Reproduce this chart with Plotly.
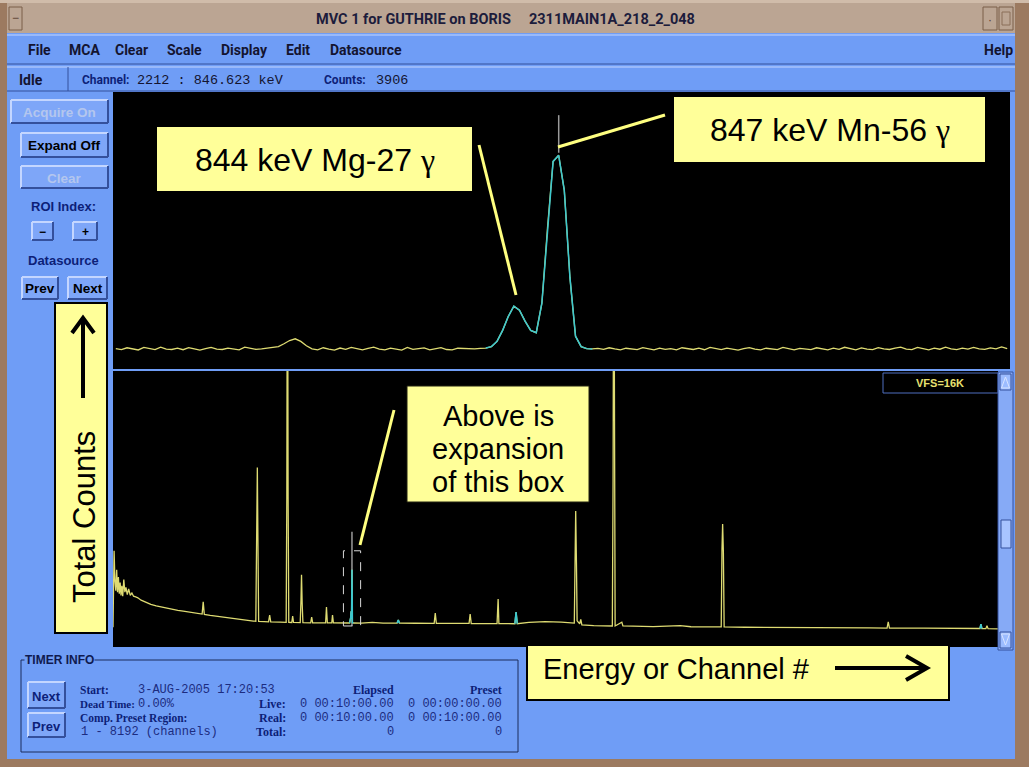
import plotly.graph_objects as go

W, H = 1029, 767

# ---------------- data ----------------
# upper panel: expansion around the 847 keV line, one value per channel
upper_first_channel = 2133
upper_counts = [
    565, 548, 580, 556, 542, 585, 562, 548, 590, 556,
    550, 572, 546, 582, 560, 540, 566, 588, 556, 550,
    575, 562, 545, 590, 566, 552, 560, 572, 580, 600,
    650, 705, 735, 690, 615, 560, 545, 580, 555, 540,
    575, 552, 586, 560, 545, 570, 592, 556, 545, 575,
    560, 540, 585, 552, 566, 578, 545, 560, 582, 550,
    545, 572, 566, 555, 562, 570,
    575, 600, 690, 880, 1120, 1300, 1230, 1040, 880, 840,
    1350, 2650, 3800, 3906, 3300, 1800, 780, 600, 565, 560,
    570, 552, 580, 560, 545, 572, 556, 548, 582, 560,
    545, 575, 552, 566, 545, 580, 560, 550, 572, 546,
    585, 560, 548, 575, 556, 540, 566, 582, 555, 545,
    572, 560, 548, 585, 562, 545, 570, 556, 548, 580,
    560, 545, 575, 552, 588, 560, 545, 578, 556, 548,
    582, 560, 550, 575, 592, 556, 548, 586, 560, 545,
    575, 555, 590, 560, 548, 572, 556, 585, 560, 552,
    578, 560, 595, 565,
]
upper_roi = [2199, 2218]
marker_channel = 2212
upper_marker_counts = [3950, 4600]
upper_count_range = [213, 5000]

# lower panel: full spectrum (channel, counts) points
lower_channels = [
    0, 10, 18, 26, 34, 42, 50, 58, 66, 74, 82, 90, 100, 110, 120, 132, 145, 160, 175, 190,
    210, 230, 260, 300, 350, 400, 450, 500, 550, 600, 650, 700, 750, 800,
    825, 835, 845, 900, 950, 1000, 1050, 1100, 1150, 1200, 1250, 1300,
    1322, 1330, 1336, 1342, 1348, 1400, 1440, 1450, 1460, 1550,
    1603, 1609, 1615, 1621, 1627, 1655, 1663, 1671,
    1733, 1740, 1745, 1751, 1758, 1830, 1839, 1848,
    1968, 1976, 1984, 2025, 2032, 2040, 2100, 2150,
    2190, 2200, 2204, 2208, 2212, 2216, 2225, 2300, 2400, 2500,
    2630, 2641, 2652, 2800, 2973, 2983, 2993, 3150, 3296, 3306, 3316, 3450,
    3555, 3560, 3565, 3572, 3720, 3731, 3742, 3850, 4000, 4150,
    4270, 4277, 4283, 4290, 4296, 4320, 4330, 4340, 4450,
    4622, 4629, 4635, 4642, 4648, 4710, 4720, 5000, 5250, 5350, 5500,
    5630, 5637, 5643, 5650, 5657, 5850, 6100, 6500, 7000,
    7165, 7176, 7187, 7500, 7800, 8025, 8034, 8043, 8080, 8090, 8100, 8192,
]
lower_counts = [
    300, 5100, 3200, 2600, 3900, 2500, 3450, 2400, 3100, 2300, 2900, 2250, 3300, 2500, 2800, 2350, 2700, 2300, 2450, 2250,
    2200, 2150, 2000, 1880, 1740, 1640, 1560, 1480, 1420, 1360, 1310, 1260, 1200, 1150,
    1130, 1890, 1110, 1050, 1000, 945, 900, 850, 800, 760, 720, 690,
    680, 5500, 10330, 5400, 670, 650, 640, 1070, 640, 620,
    610, 8500, 30000, 8400, 610, 600, 1000, 600,
    590, 2000, 3590, 1800, 585, 580, 940, 580,
    575, 1570, 575, 570, 1070, 570, 565, 565,
    565, 900, 1300, 850, 3906, 600, 565, 560, 600, 555,
    560, 750, 555, 550, 545, 1190, 545, 540, 540, 1130, 535, 530,
    530, 1300, 2070, 530, 520, 1256, 520, 600, 650, 620,
    560, 4400, 7600, 4300, 700, 520, 800, 450, 400,
    380, 9480, 30000, 9000, 380, 620, 380, 340, 400, 330, 320,
    320, 5200, 6780, 5000, 320, 300, 280, 270, 260,
    250, 630, 250, 240, 220, 220, 500, 220, 210, 400, 210, 200,
]
lower_rois = [[2190, 2225], [2630, 2652], [3720, 3742], [8025, 8043]]
lower_marker_counts = [380, 6300]
expansion_box_counts = [380, 5100]
lower_channel_range = [0, 8192]
lower_count_range = [-940, 16384]

# ---------------- styles ----------------
BLUE = "#6f9df6"
BTN = "#7ea6f8"
LIGHT = "#c4d6ff"
DARK = "#34509c"
NAVY = "#0d1f78"
BROWN = "#9c7a60"
TAN = "#bba593"
NOTE = "#ffff99"
YEL = "#dedb72"
CYAN = "#3cc8cf"
MARK = "#9a9a9a"
POINTER = "#ffff80"

SANS = "Liberation Sans, Arial, sans-serif"
COND = "Liberation Sans Narrow, Roboto, sans-serif"
SERIF = "Liberation Serif, Times New Roman, serif"
MONO = "Liberation Mono, DejaVu Sans Mono, monospace"


def fx(x):
    return x / W


def fy(y):
    return 1 - y / H


shapes = []
annos = []


def rect(x0, y0, x1, y1, fill, line=None, lw=0):
    shapes.append(dict(type="rect", xref="paper", yref="paper", x0=fx(x0), x1=fx(x1),
                       y0=fy(y1), y1=fy(y0), fillcolor=fill, layer="above",
                       line=dict(width=lw, color=line or fill)))


def seg(x0, y0, x1, y1, color, w=1):
    shapes.append(dict(type="line", xref="paper", yref="paper", x0=fx(x0), x1=fx(x1),
                       y0=fy(y0), y1=fy(y1), layer="above", line=dict(color=color, width=w)))


def poly(pts, color, w):
    path = "M " + " L ".join(f"{fx(x):.5f},{fy(y):.5f}" for x, y in pts)
    shapes.append(dict(type="path", xref="paper", yref="paper", path=path, layer="above",
                       line=dict(color=color, width=w)))


def text(x, y, s, size, color="#000", family=SANS, xanchor="center", angle=0, bg=None):
    a = dict(x=fx(x), y=fy(y), xref="paper", yref="paper", text=s, showarrow=False,
             xanchor=xanchor, yanchor="middle", textangle=angle,
             font=dict(size=size, color=color, family=family), borderpad=0)
    if bg:
        a["bgcolor"] = bg
    annos.append(a)


def button(x0, y0, x1, y1, label, color="#000", size=13.5):
    rect(x0, y0, x1, y1, BTN)
    seg(x0, y0, x1, y0, LIGHT, 2)
    seg(x0, y0, x0, y1, LIGHT, 2)
    seg(x0, y1, x1, y1, DARK, 2)
    seg(x1, y0, x1, y1, DARK, 2)
    text((x0 + x1) / 2, (y0 + y1) / 2 + 1, f"<b>{label}</b>", size, color, SANS)


# ---------------- window chrome (never overlapping the plots) ----------------
rect(0, 0, 7, 767, BROWN)
rect(1015, 0, 1029, 767, BROWN)
rect(0, 759, 1029, 767, BROWN)
rect(0, 0, 1029, 3, "#d0bcaa")
# title bar
rect(7, 3, 1015, 33, TAN)
rect(9, 7, 22, 30, TAN, "#7a5e48", 1)
text(15.5, 18, "−", 12, "#5a4030")
rect(983, 7, 997, 30, TAN, "#7a5e48", 1)
text(990, 20, "·", 12, "#5a4030")
rect(999, 7, 1013, 30, TAN, "#7a5e48", 1)
rect(1002, 12, 1010, 25, TAN, "#8a6e58", 1)
text(505, 20, "<b>MVC 1 for GUTHRIE on BORIS     2311MAIN1A_218_2_048</b>", 14.5, "#1c1c3c", COND)

# menu bar
seg(7, 35, 1015, 35, LIGHT, 1)
seg(7, 64, 1015, 64, DARK, 1)
for label, x in [("File", 27), ("MCA", 68), ("Clear", 114), ("Scale", 166), ("Display", 220),
                 ("Edit", 285), ("Datasource", 329), ("Help", 983)]:
    text(x, 50, f"<b>{label}</b>", 14, "#141430", COND, xanchor="left")

# status bar
seg(7, 67, 1015, 67, LIGHT, 1)
seg(7, 91, 1015, 91, DARK, 1)
seg(68, 67, 68, 91, DARK, 1)
text(18, 80, "<b>Idle</b>", 14, "#141430", COND, xanchor="left")
text(81, 80, "<b>Channel:</b>", 12, NAVY, COND, xanchor="left")
text(136, 81, "2212 : 846.623 keV", 13.5, "#141430", MONO, xanchor="left")
text(323, 80, "<b>Counts:</b>", 12, NAVY, COND, xanchor="left")
text(375, 81, "3906", 13.5, "#141430", MONO, xanchor="left")

# left control panel
button(11, 100, 108, 123, "Acquire On", "#b4c6ee")
button(21, 133, 108, 157, "Expand Off", "#000")
button(21, 166, 108, 188, "Clear", "#b4c6ee")
text(63, 207, "<b>ROI Index:</b>", 13, NAVY)
button(32, 222, 53, 240, "−", "#000", 12)
button(73, 222, 97, 240, "+", "#000", 12)
text(63, 260, "<b>Datasource</b>", 13, NAVY)
button(22, 277, 58, 299, "Prev", "#000")
button(68, 277, 107, 299, "Next", "#000")

# VFS label and scrollbar
rect(883, 373, 998, 393, "#000", "#4f6fbf", 1)
text(940, 383, "<b>VFS=16K</b>", 11, "#e8e070", SANS)
rect(998, 372, 1013, 650, "#86aaf6", DARK, 1)
rect(1000, 374, 1011, 390, "#9cbcff", DARK, 1)
poly([(1001.5, 388), (1005.5, 377), (1009.5, 388), (1001.5, 388)], "#d8e4ff", 1)
rect(1000, 632, 1011, 648, "#9cbcff", DARK, 1)
poly([(1001.5, 634), (1005.5, 645), (1009.5, 634), (1001.5, 634)], "#d8e4ff", 1)
rect(1001, 520, 1011, 548, "#a8c4ff", DARK, 1)

# timer info
rect(21, 660, 518, 752, BLUE, "#1c2c5c", 1)
text(24, 660, "<b>TIMER INFO</b>", 12, "#101a50", SANS, xanchor="left", bg=BLUE)
button(28, 682, 65, 708, "Next", NAVY, 13)
button(28, 713, 65, 737, "Prev", NAVY, 13)
text(79, 690, "<b>Start:</b>", 11.5, NAVY, SERIF, xanchor="left")
text(137, 690, "3-AUG-2005 17:20:53", 12, "#1c2c80", MONO, xanchor="left")
text(79, 704, "<b>Dead Time:</b>", 11, NAVY, SERIF, xanchor="left")
text(137, 704, "0.00%", 12, "#1c2c80", MONO, xanchor="left")
text(79, 718, "<b>Comp. Preset Region:</b>", 11.5, NAVY, SERIF, xanchor="left")
text(80, 732, "1 - 8192 (channels)", 12, "#1c2c80", MONO, xanchor="left")
for lbl, yy in [("Live:", 704), ("Real:", 718), ("Total:", 732)]:
    text(287, yy, f"<b>{lbl}</b>", 12, NAVY, SERIF, xanchor="right")
text(395, 690, "<b>Elapsed</b>", 12, NAVY, SERIF, xanchor="right")
text(503, 690, "<b>Preset</b>", 12, NAVY, SERIF, xanchor="right")
for s, yy in [("0 00:10:00.00", 704), ("0 00:10:00.00", 718), ("0", 732)]:
    text(395, yy, s, 12, "#1c2c80", MONO, xanchor="right")
for s, yy in [("0 00:00:00.00", 704), ("0 00:10:00.00", 718), ("0", 732)]:
    text(503, yy, s, 12, "#1c2c80", MONO, xanchor="right")

# ---------------- call-out notes ----------------
GAMMA = "<span style='font-family:Liberation Serif'>γ</span>"
rect(157, 127, 472, 191, NOTE)
text(315, 160, "844 keV Mg-27 " + GAMMA, 32, "#000", SANS)
seg(479, 145, 516, 295, POINTER, 3)
rect(674, 97, 985, 162, NOTE)
text(830, 130, "847 keV Mn-56 " + GAMMA, 32, "#000", SANS)
seg(665, 115, 558, 147, POINTER, 3)
rect(407, 386, 589, 502, NOTE, "#202010", 1)
text(498, 416, "Above is", 29, "#000", SANS)
text(498, 449, "expansion", 29, "#000", SANS)
text(498, 482, "of this box", 29, "#000", SANS)
seg(394, 410, 360, 545, POINTER, 3)
rect(55, 303, 107, 633, NOTE, "#000", 2)
text(84, 517, "Total Counts", 31, "#000", SANS, angle=-90)
seg(83, 320, 83, 398, "#000", 4)
poly([(72, 333), (83, 318), (94, 333)], "#000", 4)
rect(527, 645, 949, 700, NOTE, "#000", 2)
text(542, 669, "Energy or Channel #", 29, "#000", SANS, xanchor="left")
seg(835, 668, 924, 668, "#000", 4)
poly([(906, 656), (927, 668), (906, 680)], "#000", 4)

# ---------------- spectra ----------------
upper_channels = list(range(upper_first_channel, upper_first_channel + len(upper_counts)))


def in_range(chs, cts, lo, hi):
    pts = [(c, v) for c, v in zip(chs, cts) if lo <= c <= hi]
    return [p[0] for p in pts], [p[1] for p in pts]


fig = go.Figure()
fig.add_trace(go.Scatter(x=upper_channels, y=upper_counts, mode="lines",
                         line=dict(color=YEL, width=1.3), xaxis="x", yaxis="y", hoverinfo="skip"))
ux, uy = in_range(upper_channels, upper_counts, *upper_roi)
fig.add_trace(go.Scatter(x=ux, y=uy, mode="lines", line=dict(color=CYAN, width=1.5),
                         xaxis="x", yaxis="y", hoverinfo="skip"))
fig.add_trace(go.Scatter(x=[marker_channel, marker_channel], y=upper_marker_counts, mode="lines",
                         line=dict(color=MARK, width=1.5), xaxis="x", yaxis="y", hoverinfo="skip"))

fig.add_trace(go.Scatter(x=[marker_channel, marker_channel], y=lower_marker_counts, mode="lines",
                         line=dict(color=MARK, width=1.5), xaxis="x2", yaxis="y2", hoverinfo="skip"))
fig.add_trace(go.Scatter(x=lower_channels, y=lower_counts, mode="lines",
                         line=dict(color=YEL, width=1.3), xaxis="x2", yaxis="y2", hoverinfo="skip"))
for lo, hi in lower_rois:
    rx, ry = in_range(lower_channels, lower_counts, lo, hi)
    fig.add_trace(go.Scatter(x=rx, y=ry, mode="lines", line=dict(color=CYAN, width=1.5),
                             xaxis="x2", yaxis="y2", hoverinfo="skip"))
bx0, bx1 = upper_channels[0], upper_channels[-1]
by0, by1 = expansion_box_counts
fig.add_trace(go.Scatter(x=[bx0, bx1, bx1, bx0, bx0], y=[by0, by0, by1, by1, by0], mode="lines",
                         line=dict(color="#d8d8d8", width=1, dash="dash"),
                         xaxis="x2", yaxis="y2", hoverinfo="skip"))

hidden = dict(visible=False, showgrid=False, zeroline=False, fixedrange=True)
fig.update_layout(
    width=W, height=H, margin=dict(l=0, r=0, t=0, b=0),
    paper_bgcolor=BLUE, plot_bgcolor="#000000", showlegend=False,
    xaxis=dict(domain=[fx(113), fx(1010)], range=[upper_first_channel - 0.5, upper_channels[-1] + 0.5],
               anchor="y", **hidden),
    yaxis=dict(domain=[fy(369), fy(92)], range=upper_count_range, anchor="x", **hidden),
    xaxis2=dict(domain=[fx(113), fx(998)], range=lower_channel_range, anchor="y2", **hidden),
    yaxis2=dict(domain=[fy(647), fy(371)], range=lower_count_range, anchor="x2", **hidden),
    shapes=shapes, annotations=annos,
)

fig.write_html("out.html", config={"displayModeBar": False},
               post_script="document.body.style.margin='0';document.body.style.overflow='hidden';")
